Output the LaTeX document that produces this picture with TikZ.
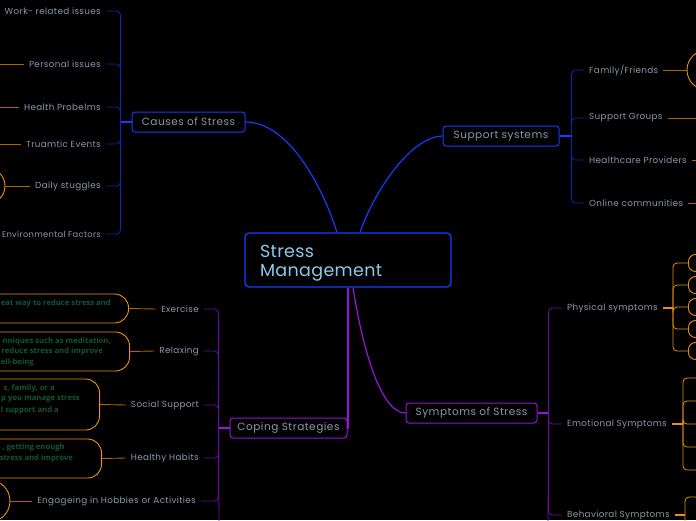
\documentclass[tikz,border=0pt]{standalone}
\usepackage{fontspec}
\setmainfont{Poppins}
\newfontfamily\notefont{Open Sans}
\newfontfamily\labelfont[LetterSpace=4]{Poppins}
\newfontfamily\topicfont[LetterSpace=5]{Poppins}
\newfontfamily\titlefont[LetterSpace=2]{Poppins}
\usetikzlibrary{positioning, calc}
\definecolor{cBg}{RGB}{0,0,0}
\definecolor{cBlue}{RGB}{20,60,255}
\definecolor{cBlueDk}{RGB}{10,40,190}
\definecolor{cPurple}{RGB}{150,20,220}
\definecolor{cPurpleDk}{RGB}{110,10,170}
\definecolor{cOrange}{RGB}{235,145,10}
\definecolor{cOrangeDk}{RGB}{175,100,0}
\definecolor{cLabel}{RGB}{135,155,170}
\definecolor{cSky}{RGB}{140,200,235}
\definecolor{cNote}{RGB}{20,85,55}
\tikzset{
    central/.style={rectangle, rounded corners=4pt, draw=cBlue, line width=1.3pt, minimum width=206pt, minimum height=54pt, inner xsep=15pt, text width=176pt, align=left, text=cSky, font=\titlefont\fontsize{17.5}{19}\selectfont},
    topic/.style={rectangle, rounded corners=3pt, line width=1pt, minimum height=20pt, text=cLabel, font=\topicfont\fontsize{10.5}{11}\selectfont},
    leaf/.style={inner xsep=5pt, inner ysep=1pt, text=cLabel, font=\labelfont\fontsize{8.8}{9}\selectfont},
    notebox/.style={rectangle, rounded corners=14pt, draw=cOrange, line width=0.9pt, minimum width=240pt},
    noteline/.style={inner sep=0pt, text=cNote, font=\notefont\bfseries\fontsize{7.7}{8}\selectfont},
    bubble/.style={circle, draw=cOrange, line width=0.9pt, inner sep=0pt},
    pill/.style={rectangle, rounded corners=7pt, draw=cOrange, line width=0.9pt, minimum width=30pt, minimum height=17pt},
    trunk/.style={line width=1.5pt},
    twig/.style={line width=0.8pt, rounded corners=4pt},
    oline/.style={cOrangeDk, line width=0.9pt},
}
\begin{document}
\begin{tikzpicture}[x=1pt, y=-1pt]
    \useasboundingbox (0,0) rectangle (696,520);
    \clip (0,0) rectangle (696,520);
    \fill[cBg] (0,0) rectangle (696,520);
    % off-canvas columns for cut-off children
    \coordinate (edgeL) at (-10,0);
    \coordinate (edgeR) at (706,0);

    % centre and main topics
    \node[central] (stress) at (348,260) {\rule{0pt}{18pt}Stress\\Management};
    \node[topic, draw=cBlue, minimum width=113pt] (causes) at (188.5,122) {Causes of Stress};
    \node[topic, draw=cBlue, minimum width=116pt] (support) at (501,136) {Support systems};
    \node[topic, draw=cPurple, minimum width=131pt] (symptoms) at (471.5,413) {Symptoms of Stress};
    \node[topic, draw=cPurple, minimum width=117pt] (coping) at (288.5,428) {Coping Strategies};

    \draw[cBlue, line width=1.2pt] (causes.east) .. controls (288,122) and (322,185) .. ([xshift=-11pt]stress.north);
    \draw[cBlue, line width=1.2pt] (support.west) .. controls (410,137) and (374,192) .. ([xshift=12pt]stress.north);
    \draw[cPurple, line width=1.2pt] ([xshift=5pt]stress.south) .. controls (362,345) and (380,413) .. (symptoms.west);
    \draw[cPurple, line width=1.2pt] (stress.south) -- (stress.south |- coping.east) -- (coping.east);

    % causes of stress
    \coordinate[left=11pt of causes.west] (cj);
    \draw[trunk, cBlue] (causes.west) -- (cj);
    \node[leaf, anchor=east] (wri) at (106,11) {Work- related issues};
    \node[leaf, anchor=east] (pers) at (106,64) {Personal issues};
    \node[leaf, anchor=east] (health) at (106,107) {Health Probelms};
    \node[leaf, anchor=east] (trauma) at (106,144) {Truamtic Events};
    \node[leaf, anchor=east] (daily) at (106,186) {Daily stuggles};
    \node[leaf, anchor=east, font=\labelfont\fontsize{8.3}{9}\selectfont] (env) at (106,234) {Environmental Factors};
    \foreach \n in {wri, pers, health, trauma, daily, env}
        \draw[twig, cBlueDk] (cj) |- (\n.east);
    \foreach \n in {wri, pers, health, trauma}
        \draw[oline] (\n.west) -- (\n.west -| edgeL);
    \node[bubble, minimum size=36pt] (dailyb) at (-13,186) {};
    \draw[oline] (daily.west) -- (dailyb.east);

    % support systems
    \coordinate[right=12pt of support.east] (sj);
    \draw[trunk, cBlue] (support.east) -- (sj);
    \node[leaf, anchor=west] (fam) at (584,70) {Family/Friends};
    \node[leaf, anchor=west] (groups) at (584,118) {Support Groups};
    \node[leaf, anchor=west] (care) at (584,160) {Healthcare Providers};
    \node[leaf, anchor=west] (online) at (584,203) {Online communities};
    \foreach \n in {fam, groups, care, online}
        \draw[twig, cBlueDk] (sj) |- (\n.west);
    \node[bubble, minimum size=40pt] (famb) at (707,70) {};
    \draw[oline] (fam.east) -- (famb.west);
    \foreach \n in {groups, care, online}
        \draw[oline] (\n.east) -- (\n.east -| edgeR);

    % coping strategies
    \coordinate[left=11pt of coping.west] (kj);
    \coordinate (kend) at (219,530);
    \draw[trunk, cPurple] (coping.west) -- (kj);
    \node[leaf, anchor=east] (exer) at (204,309) {Exercise};
    \node[leaf, anchor=east] (relax) at (204,351) {Relaxing};
    \node[leaf, anchor=east] (social) at (204,405) {Social Support};
    \node[leaf, anchor=east] (habits) at (204,458) {Healthy Habits};
    \node[leaf, anchor=east] (hobby) at (201,501) {Engageing in Hobbies or Activities};
    \foreach \n in {exer, relax, social, habits, hobby}
        \draw[twig, cPurpleDk] (kj) |- (\n.east);
    \draw[twig, cPurpleDk] (kj) -- (kend);

    \node[notebox, anchor=east, minimum height=29pt] (exerbox) at (129,308.5) {};
    \node[notebox, anchor=east, minimum height=39pt] (relaxbox) at (130,351.5) {};
    \node[notebox, anchor=east, minimum height=51pt] (socialbox) at (100,404.5) {};
    \node[notebox, anchor=east, minimum height=39pt] (habitsbox) at (102,458.5) {};
    \node[bubble, minimum size=42pt] (hobbyb) at (-11,501) {};
    \draw[oline] (exer.west) -- (exerbox.east);
    \draw[oline] (relax.west) -- (relaxbox.east);
    \draw[oline] (social.west) -- (socialbox.east);
    \draw[oline] (habits.west) -- (habitsbox.east);
    \draw[oline] (hobby.west) -- (hobbyb.east);

    \node[noteline, anchor=east] (ex1) at (111,303) {eat way to reduce stress and};
    \node[noteline, anchor=east] (rx1) at (111,341) {nniques such as meditation,};
    \node[noteline, anchor=east] (rx2) at (103,351) {reduce stress and improve};
    \node[noteline, anchor=east] (rx3) at (34,362) {ell-being};
    \node[noteline, anchor=east] (ss1) at (55,388) {s, family, or a};
    \node[noteline, anchor=east] (ss2) at (80,399) {p you manage stress};
    \node[noteline, anchor=east] (ss3) at (59,410) {l support and a};
    \node[noteline, anchor=east] (hh1) at (65,447) {, getting enough};
    \node[noteline, anchor=east] (hh2) at (73,458) {stress and improve};

    % symptoms of stress
    \coordinate[right=11pt of symptoms.east] (yj);
    \coordinate (yend) at (548,530);
    \draw[trunk, cPurple] (symptoms.east) -- (yj);
    \node[leaf, anchor=west] (phys) at (562,308) {Physical symptoms};
    \node[leaf, anchor=west] (emo) at (562,424) {Emotional Symptoms};
    \node[leaf, anchor=west] (beh) at (562,515) {Behavioral Symptoms};
    \foreach \n in {phys, emo, beh}
        \draw[twig, cPurpleDk] (yj) |- (\n.west);
    \draw[twig, cPurpleDk] (yj) -- (yend);

    \coordinate (pj) at (673,308);
    \draw[cOrange, line width=1.2pt] (phys.east) -- (pj);
    \foreach \y [count=\i] in {263,285,307,329,351} {
        \node[pill, anchor=west] (pill\i) at (688,\y) {};
        \draw[twig, cOrange] (pj) |- (pill\i.west);
    }
    \coordinate (ej) at (683,424);
    \draw[cOrange, line width=1.5pt] (emo.east) -- (ej);
    \foreach \y [count=\i] in {378,401,424,447,470} {
        \coordinate (emo\i) at (706,\y);
        \draw[twig, cOrange] (ej) |- (emo\i);
    }
    \coordinate (bj) at (685,515);
    \coordinate (beh1) at (706,497);
    \coordinate (bend) at (685,530);
    \draw[cOrange, line width=1.5pt] (beh.east) -- (bj);
    \draw[twig, cOrange] (bend) |- (beh1);
\end{tikzpicture}
\end{document}
